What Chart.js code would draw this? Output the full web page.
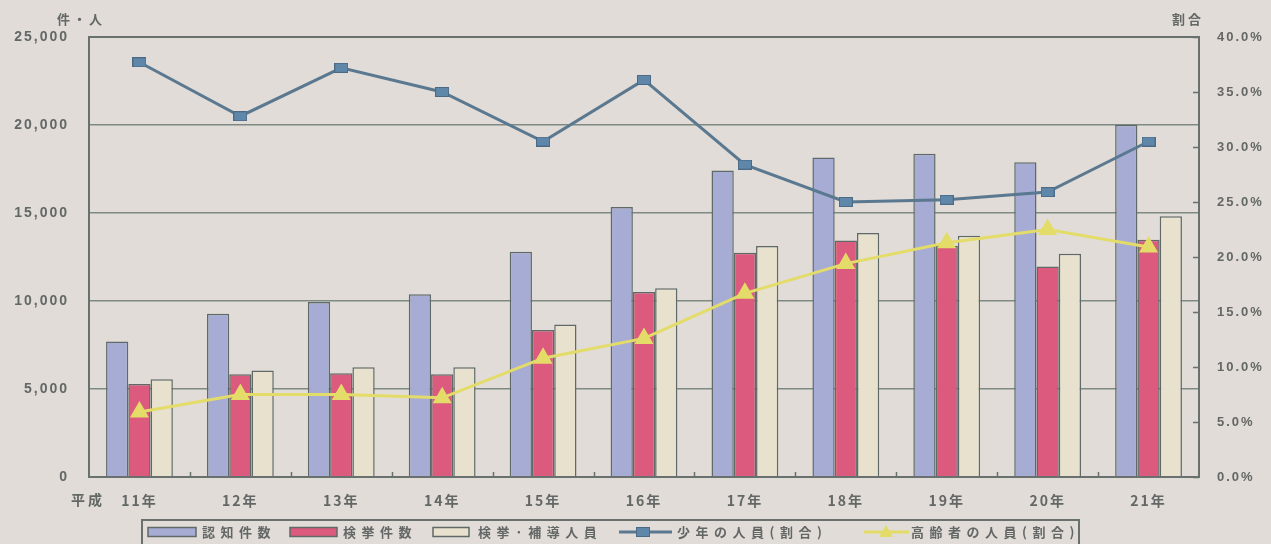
<!DOCTYPE html>
<html><head><meta charset="utf-8">
<script src="https://cdn.jsdelivr.net/npm/chart.js@4.4.0/dist/chart.umd.min.js"></script>
<style>
html,body{margin:0;padding:0;background:#e1dcd7;}
#wrap{width:1271px;height:544px;position:relative;overflow:hidden;}
canvas{display:block;}
</style>
</head><body>
<div id="wrap"><canvas id="c" width="1271" height="544"></canvas></div>
<script>
// ---- data ----
const categories = ['11年','12年','13年','14年','15年','16年','17年','18年','19年','20年','21年'];
const recognizedCases = [7700, 9270, 9940, 10390, 12800, 15340, 17410, 18160, 18360, 17880, 20020];
const clearedCases    = [5290, 5840, 5900, 5840, 8350, 10510, 12740, 13440, 13140, 11960, 13480];
const clearedPersons  = [5560, 6050, 6240, 6240, 8660, 10730, 13120, 13860, 13710, 12690, 14810];
const juvenileRate    = [37.7, 32.8, 37.2, 35.0, 30.5, 36.1, 28.4, 25.0, 25.2, 25.9, 30.5];
const elderlyRate     = [5.9, 7.5, 7.5, 7.2, 10.8, 12.6, 16.7, 19.4, 21.3, 22.5, 20.9];
const seriesNames = ['認知件数','検挙件数','検挙·補導人員','少年の人員(割合)','高齢者の人員(割合)'];
const leftAxisTitle = '件・人';
const rightAxisTitle = '割合';
const eraPrefix = '平成';
const leftMax = 25000, leftStep = 5000;
const rightMax = 40, rightStep = 5;

// ---- styles ----
const C = {
  paper:'#e1dcd7', text:'#636765', grid:'#7f8a84', frame:'#68716d',
  blue:'#a6acd3', pink:'#dc5a7e', cream:'#e7e1cd', barEdge:'#5f6a68',
  line1:'#5a7890', mark1:'#5f87aa', line2:'#e4dc68'
};
const CJK = 'bold 13px "Noto Sans CJK JP", sans-serif';

// square marker image
const sq = document.createElement('canvas');
sq.width = 14; sq.height = 10;
(function(){const g=sq.getContext('2d'); g.fillStyle=C.mark1; g.fillRect(0,0,14,10); g.strokeStyle='#4b6a86'; g.lineWidth=1; g.strokeRect(0.5,0.5,13,9);})();

const decor = {
  id:'decor',
  beforeDraw(chart){
    const ctx = chart.ctx;
    ctx.save();
    ctx.fillStyle = C.paper;
    ctx.fillRect(0,0,chart.width,chart.height);
    ctx.restore();
    ctx.letterSpacing = '2px';
  },
  afterDraw(chart){
    const ctx = chart.ctx, a = chart.chartArea;
    const x = chart.scales.x, y1 = chart.scales.y1;
    ctx.save();
    // frame
    ctx.strokeStyle = C.frame; ctx.lineWidth = 2;
    ctx.strokeRect(a.left, a.top, a.right - a.left, a.bottom - a.top);
    // inward ticks on right axis
    ctx.lineWidth = 1.5;
    y1.ticks.forEach(t => {
      const py = Math.round(y1.getPixelForValue(t.value)) + 0.5;
      ctx.beginPath(); ctx.moveTo(a.right - 6, py); ctx.lineTo(a.right, py); ctx.stroke();
    });
    // inward ticks on category boundaries
    const n = categories.length, w = (a.right - a.left) / n;
    for (let i = 1; i < n; i++) {
      const px = Math.round(a.left + i * w) + 0.5;
      ctx.beginPath(); ctx.moveTo(px, a.bottom - 5); ctx.lineTo(px, a.bottom); ctx.stroke();
    }
    // titles
    ctx.fillStyle = C.text; ctx.font = CJK; ctx.letterSpacing = '3px';
    ctx.textAlign = 'center'; ctx.textBaseline = 'middle';
    ctx.fillText(leftAxisTitle, 81, 19);
    ctx.fillText(rightAxisTitle, 1188, 19);
    ctx.font = 'bold 14px "Noto Sans CJK JP", sans-serif';
    ctx.fillText(eraPrefix, 88, x.bottom - 44);
    // legend
    const ly = 532;
    ctx.strokeStyle = C.frame; ctx.lineWidth = 2;
    ctx.strokeRect(142, 520, 1079 - 142, 40);
    ctx.lineWidth = 1.5; ctx.strokeStyle = C.barEdge;
    const boxes = [[148,196,C.blue],[290,337,C.pink],[433,469,C.cream]];
    boxes.forEach(b => { ctx.fillStyle = b[2]; ctx.fillRect(b[0], ly-4.5, b[1]-b[0], 9); ctx.strokeRect(b[0], ly-4.5, b[1]-b[0], 9); });
    // line 1
    ctx.strokeStyle = C.line1; ctx.lineWidth = 3;
    ctx.beginPath(); ctx.moveTo(619, ly); ctx.lineTo(672, ly); ctx.stroke();
    ctx.drawImage(sq, 643-7, ly-5);
    // line 2
    ctx.strokeStyle = C.line2; ctx.lineWidth = 3;
    ctx.beginPath(); ctx.moveTo(864, ly); ctx.lineTo(909, ly); ctx.stroke();
    ctx.fillStyle = C.line2;
    ctx.beginPath(); ctx.moveTo(886, ly-7); ctx.lineTo(893, ly+5); ctx.lineTo(879, ly+5); ctx.closePath(); ctx.fill();
    // legend texts
    ctx.fillStyle = C.text; ctx.font = CJK; ctx.letterSpacing = '5.5px';
    ctx.textAlign = 'left';
    const tx = [202, 343, 478, 677, 911];
    seriesNames.forEach((s,i) => ctx.fillText(s, tx[i], ly));
    ctx.restore();
    ctx.letterSpacing = '2px';
  }
};

const ctx = document.getElementById('c').getContext('2d');
new Chart(ctx, {
  type:'bar',
  data:{
    labels: categories,
    datasets:[
      {type:'line', label:seriesNames[3], data:juvenileRate, yAxisID:'y1', order:1,
       borderColor:C.line1, borderWidth:3, pointStyle:sq, pointRadius:7, tension:0},
      {type:'line', label:seriesNames[4], data:elderlyRate, yAxisID:'y1', order:1,
       borderColor:C.line2, borderWidth:3, pointStyle:'triangle', pointRadius:8,
       pointBackgroundColor:C.line2, pointBorderColor:C.line2, tension:0},
      {label:seriesNames[0], data:recognizedCases, yAxisID:'y', order:2,
       backgroundColor:C.blue, borderColor:C.barEdge, borderWidth:1.5},
      {label:seriesNames[1], data:clearedCases, yAxisID:'y', order:2,
       backgroundColor:C.pink, borderColor:C.barEdge, borderWidth:1.5},
      {label:seriesNames[2], data:clearedPersons, yAxisID:'y', order:2,
       backgroundColor:C.cream, borderColor:C.barEdge, borderWidth:1.5}
    ]
  },
  options:{
    responsive:false, animation:false, devicePixelRatio:1,
    layout:{padding:{top:37, left:0, right:0, bottom:0}},
    datasets:{bar:{categoryPercentage:0.662, barPercentage:1.0}},
    plugins:{legend:{display:false}, tooltip:{enabled:false}},
    scales:{
      x:{
        grid:{display:false, drawTicks:false},
        border:{display:true, color:C.frame, width:2},
        ticks:{color:C.text, font:{family:'"Noto Sans CJK JP", sans-serif', size:14, weight:'bold'}, padding:15, maxRotation:0},
        afterFit(s){ s.height = 67; }
      },
      y:{
        position:'left', min:0, max:leftMax,
        ticks:{stepSize:leftStep, color:C.text, padding:20,
          font:{family:'"Liberation Sans", Arial, sans-serif', size:14, weight:'bold'},
          callback:v => v.toLocaleString('en-US')},
        grid:{color:C.grid, lineWidth:1.5, drawTicks:false},
        border:{display:true, color:C.frame, width:2},
        afterFit(s){ s.width = 89; }
      },
      y1:{
        position:'right', min:0, max:rightMax,
        ticks:{stepSize:rightStep, color:C.text, padding:18,
          font:{family:'"Liberation Sans", Arial, sans-serif', size:13, weight:'bold'},
          callback:v => v.toFixed(1) + '%'},
        grid:{drawOnChartArea:false, drawTicks:false},
        border:{display:true, color:C.frame, width:2},
        afterFit(s){ s.width = 72; }
      }
    }
  },
  plugins:[decor]
});
</script>
</body></html>
